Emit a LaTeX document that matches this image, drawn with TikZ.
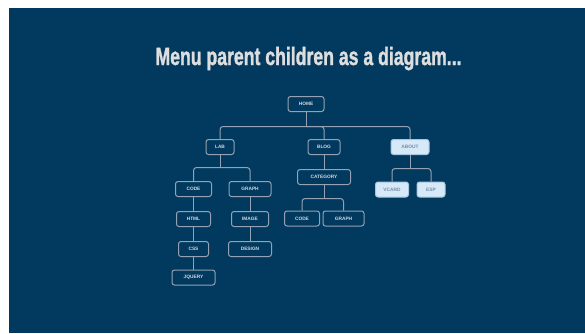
\documentclass[tikz,border=0pt]{standalone}
\usepackage{fontspec}
\setmainfont{Liberation Sans}
\newfontfamily\titlefont{Liberation Sans}[BoldFeatures={FakeBold=1.6}]
\usepackage{graphicx}
\definecolor{bg}{RGB}{1,58,94}
\definecolor{linec}{RGB}{148,162,180}
\definecolor{txtc}{RGB}{210,216,225}
\definecolor{hlfill}{RGB}{214,233,248}
\definecolor{hldraw}{RGB}{170,196,220}
\definecolor{hltext}{RGB}{120,140,165}
\definecolor{titlec}{RGB}{222,222,222}
\begin{document}
\begin{tikzpicture}[x=1pt,y=-1pt,
 box/.style={draw=linec,line width=1pt,rounded corners=2.5pt,fill=bg,minimum height=15pt,inner sep=0pt,text=txtc,font=\fontsize{4.8}{5.5}\selectfont\bfseries},
 hl/.style={box,fill=hlfill,draw=hldraw,text=hltext},
 conn/.style={draw=linec,line width=1pt,rounded corners=3pt}]
\useasboundingbox (0,0) rectangle (585,333);
\fill[white] (0,0) rectangle (585,333);
\fill[bg] (9,8) rectangle (585,333);
\node[anchor=base,text=titlec,inner sep=0pt] (title) at (308.5,65) {\resizebox{306pt}{\height}{\titlefont\fontsize{25}{25}\selectfont\bfseries Menu parent children as a diagram...}};

\node[box,minimum width=36pt] (home) at (306,104) {HOME};
\node[box,minimum width=28pt] (lab) at (220,147) {LAB};
\node[box,minimum width=32pt] (blog) at (324,147) {BLOG};
\node[hl,minimum width=38pt] (about) at (410,147) {ABOUT};
\node[box,minimum width=36pt] (code) at (193.5,189) {CODE};
\node[box,minimum width=42pt] (graph) at (250,189) {GRAPH};
\node[box,minimum width=53pt] (cat) at (324,177) {CATEGORY};
\node[hl,minimum width=33pt] (vcard) at (392,189.5) {VCARD};
\node[hl,minimum width=28pt] (esp) at (431,189.5) {ESP};
\node[box,minimum width=34pt] (html) at (193.5,219) {HTML};
\node[box,minimum width=37pt] (image) at (250,219) {IMAGE};
\node[box,minimum width=35pt] (code2) at (302,218.5) {CODE};
\node[box,minimum width=41pt] (graph2) at (343.5,218.5) {GRAPH};
\node[box,minimum width=30pt] (css) at (193.5,249) {CSS};
\node[box,minimum width=43pt] (design) at (250,249) {DESIGN};
\node[box,minimum width=43pt] (jquery) at (193.5,277.5) {JQUERY};

% home branch
\draw[conn] (home.south) -- ++(0,14.5) coordinate (hb);
\draw[conn] (hb) -| (lab.north);
\draw[conn] (hb) -| (blog.north);
\draw[conn] (hb) -| (about.north);
% lab branch
\draw[conn] (lab.south) -- ++(0,12.5) coordinate (lb);
\draw[conn] (lb) -| (code.north);
\draw[conn] (lb) -| (graph.north);
% blog / category
\draw[conn] (blog.south) -- (cat.north);
\draw[conn] (cat.south) -- ++(0,13.5) coordinate (cb);
\draw[conn] (cb) -| (code2.north);
\draw[conn] (cb) -| (graph2.north);
% about branch
\draw[conn] (about.south) -- ++(0,13.5) coordinate (ab);
\draw[conn] (ab) -| (vcard.north);
\draw[conn] (ab) -| (esp.north);
% chains
\draw[conn] (code.south) -- (html.north);
\draw[conn] (html.south) -- (css.north);
\draw[conn] (css.south) -- (jquery.north);
\draw[conn] (graph.south) -- (image.north);
\draw[conn] (image.south) -- (design.north);
\end{tikzpicture}
\end{document}
